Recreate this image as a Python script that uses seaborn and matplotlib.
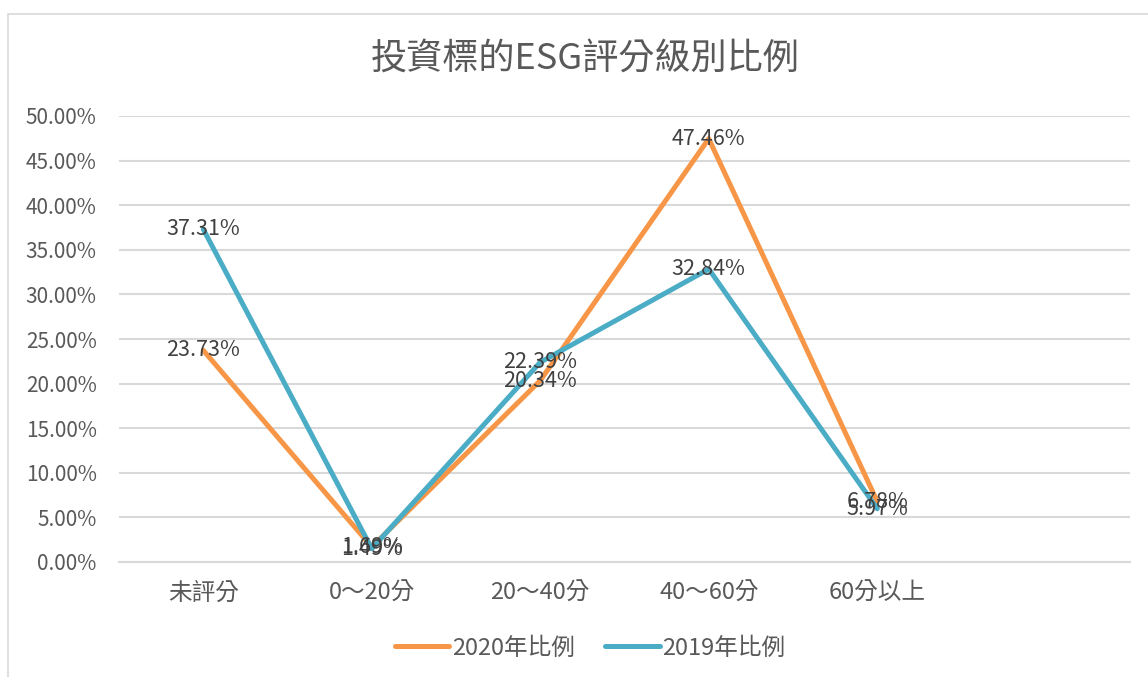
import matplotlib
matplotlib.use("Agg")
import matplotlib.pyplot as plt
import seaborn as sns
import pandas as pd
from matplotlib.patches import Rectangle
from matplotlib.ticker import FuncFormatter
from matplotlib.lines import Line2D

categories = ["未評分", "0～20分", "20～40分", "40～60分", "60分以上"]
series_names = ["2020年比例", "2019年比例"]
values_2020 = [23.73, 1.69, 20.34, 47.46, 6.78]
values_2019 = [37.31, 1.49, 22.39, 32.84, 5.97]
title = "投資標的ESG評分級別比例"

colors = {"2020年比例": "#F79646", "2019年比例": "#4BACC6"}

sns.set_theme(style="white")
plt.rcParams['font.family'] = ['Noto Sans CJK TC', 'DejaVu Sans']

df = pd.DataFrame({
    "cat": categories * 2,
    "x": list(range(len(categories))) * 2,
    "val": values_2020 + values_2019,
    "series": [series_names[0]] * len(categories) + [series_names[1]] * len(categories),
})

fig = plt.figure(figsize=(11.48, 6.77), dpi=100)
# chart border
fig.patches.append(Rectangle((8 / 1148, -0.1), 1.2, 1 - 14 / 677 + 0.1, transform=fig.transFigure,
                             fill=False, edgecolor="#D9D9D9", linewidth=1.2))

ax = fig.add_axes([119 / 1148, 1 - 562 / 677, (1130 - 119) / 1148, (562 - 116) / 677])
sns.lineplot(data=df, x="x", y="val", hue="series", palette=colors, hue_order=series_names,
             linewidth=3.6, ax=ax, legend=False, sort=False)
for line in ax.lines:
    line.set_solid_joinstyle("round")
    line.set_solid_capstyle("round")

ax.set_xlim(-0.5, 5.5)
ax.set_ylim(0, 50)
ax.set_yticks([i * 5 for i in range(11)])
ax.yaxis.set_major_formatter(FuncFormatter(lambda v, p: f"{v:.2f}%"))
ax.set_xticks(range(len(categories)))
ax.set_xticklabels(categories)
ax.tick_params(axis="y", labelsize=15, labelcolor="#595959", length=0, pad=16)
ax.tick_params(axis="x", labelsize=17, labelcolor="#595959", length=0, pad=14)
ax.grid(axis="y", color="#D9D9D9", linewidth=1.5)
ax.grid(axis="x", visible=False)
for s in ["top", "right", "left"]:
    ax.spines[s].set_visible(False)
ax.spines["bottom"].set_color("#D9D9D9")
ax.spines["bottom"].set_linewidth(1.5)
ax.set_xlabel("")
ax.set_ylabel("")

# data labels (centered on points)
for vals in [values_2020, values_2019]:
    for i, v in enumerate(vals):
        ax.text(i, v, f"{v:.2f}%", ha="center", va="center", fontsize=15.5, color="#404040")

fig.text(585 / 1148, 1 - 60 / 677, title, ha="center", va="center", fontsize=26, color="#595959")

handles = [Line2D([0], [0], color=colors[n], linewidth=3.6, solid_capstyle="round") for n in series_names]
leg = fig.legend(handles, series_names, loc="center", bbox_to_anchor=(590 / 1148, 1 - 648 / 677),
                 ncol=2, frameon=False, fontsize=17, handlelength=2.3, handletextpad=0.1,
                 columnspacing=1.3)
for t in leg.get_texts():
    t.set_color("#595959")

fig.savefig("out.png", dpi=100)
